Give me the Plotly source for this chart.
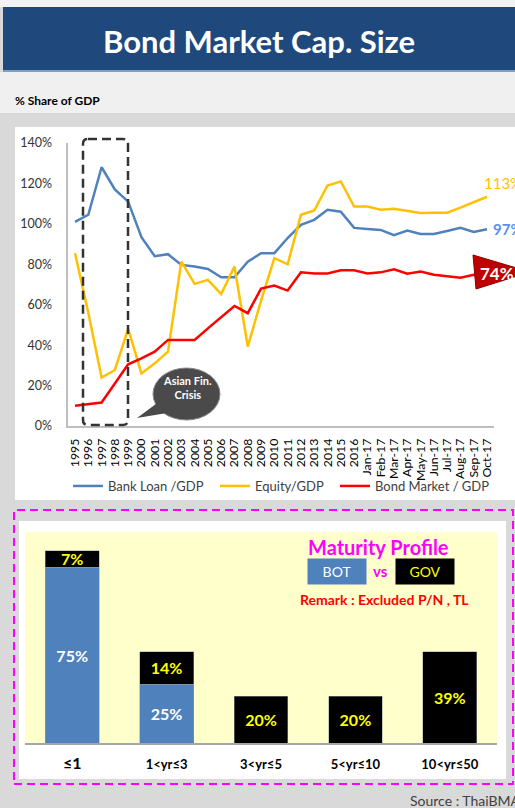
import plotly.graph_objects as go

W, H = 515, 808


def X(px):
    return px / W


def Y(py):
    return 1 - py / H


FONT = "Lato"

# ---------------- data ----------------
periods = [str(y) for y in range(1995, 2017)] + [
    "Jan-17", "Feb-17", "Mar-17", "Apr-17", "May-17",
    "Jun-17", "Jul-17", "Aug-17", "Sep-17", "Oct-17"]

bank_loan = [101, 104.5, 128, 117, 111, 93.4, 84, 85, 79.7, 78.9, 77.7,
             73.6, 73.6, 81.3, 85.5, 85.5, 93, 99.5, 102, 107, 106, 98,
             97.5, 97, 94.4, 96.7, 95, 95, 96.5, 98, 96, 97.3]
equity = [85.5, 56, 24, 27.7, 48, 26, 31, 36.8, 81.3, 70.3, 72.3,
          65.3, 78.9, 39.3, 62, 83, 80, 104.5, 106.6, 119, 121, 108.6,
          108.6, 107, 107.5, 106.4, 105.4, 105.5, 105.5, 108, 110.7, 113.4]
bond_market = [10, 10.9, 11.6, 21, 30.5, 33.5, 36.8, 42.6, 42.6, 42.6, 48.3,
               54, 59.4, 55.8, 68, 69.5, 67, 76, 75.5, 75.5, 77, 77,
               75.5, 76, 77.5, 75.3, 76.4, 74.8, 74, 73.4, 74.8, 74.4]

y_ticks = [0, 20, 40, 60, 80, 100, 120, 140]
y_tick_labels = [f"{v}%" for v in y_ticks]

maturity = ["≤1", "1<yr≤3", "3<yr≤5", "5<yr≤10", "10<yr≤50"]
bot_share = [75, 25, None, None, None]
gov_share = [7, 14, 20, 20, 39]

# ---------------- figure ----------------
fig = go.Figure()

fig.add_trace(go.Scatter(x=periods, y=bank_loan, name="Bank Loan /GDP", mode="lines",
                         line=dict(color="#4f81bd", width=2.5), xaxis="x", yaxis="y",
                         legend="legend"))
fig.add_trace(go.Scatter(x=periods, y=equity, name="Equity/GDP", mode="lines",
                         line=dict(color="#ffc000", width=2.5), xaxis="x", yaxis="y",
                         legend="legend2"))
fig.add_trace(go.Scatter(x=periods, y=bond_market, name="Bond Market / GDP", mode="lines",
                         line=dict(color="#ff0000", width=2.5), xaxis="x", yaxis="y",
                         legend="legend3"))

fig.add_trace(go.Bar(x=maturity, y=bot_share, name="BOT", xaxis="x2", yaxis="y2",
                     marker=dict(color="#4f81bd", line=dict(color="#9a9a9a", width=0.5)),
                     text=[f"{v}%" if v else "" for v in bot_share],
                     textposition="inside", insidetextanchor="middle",
                     textfont=dict(family=FONT, size=16, color="white", weight="bold"),
                     showlegend=False, hoverinfo="skip"))
fig.add_trace(go.Bar(x=maturity, y=gov_share, name="GOV", xaxis="x2", yaxis="y2",
                     marker=dict(color="#000000", line=dict(color="#9a9a9a", width=0.5)),
                     text=[f"{v}%" for v in gov_share],
                     textposition="inside", insidetextanchor="middle",
                     textfont=dict(family=FONT, size=16, color="#ffff00", weight="bold"),
                     showlegend=False, hoverinfo="skip"))


def rounded_rect(x0, y0, x1, y1, r):
    return (f"M {X(x0 + r)},{Y(y0)} L {X(x1 - r)},{Y(y0)} Q {X(x1)},{Y(y0)} {X(x1)},{Y(y0 + r)} "
            f"L {X(x1)},{Y(y1 - r)} Q {X(x1)},{Y(y1)} {X(x1 - r)},{Y(y1)} "
            f"L {X(x0 + r)},{Y(y1)} Q {X(x0)},{Y(y1)} {X(x0)},{Y(y1 - r)} "
            f"L {X(x0)},{Y(y0 + r)} Q {X(x0)},{Y(y0)} {X(x0 + r)},{Y(y0)} Z")


def rect(x0, y0, x1, y1, fill, layer="below", line=None):
    return dict(type="rect", xref="paper", yref="paper", x0=X(x0), x1=X(x1), y0=Y(y1), y1=Y(y0),
                fillcolor=fill, layer=layer, line=line or dict(width=0))


shapes = [
    rect(0, 0, 515, 7, "#f2f2f2"),
    rect(3, 7, 515, 70, "#1f497d"),
    rect(3, 70, 515, 72, "#7f9fc8"),
    rect(0, 72, 515, 113, "#f0f0f0"),
    rect(15, 127, 520, 500, "#ffffff"),
    rect(14, 510, 513, 784, "rgba(0,0,0,0)", line=dict(color="#ff00ff", width=2, dash="8px,5px")),
    rect(19, 521, 506, 779, "#ffffff"),
    rect(25, 532, 497, 743, "#ffffcc"),
    dict(type="path", xref="paper", yref="paper", path=rounded_rect(83, 139, 128, 425, 5),
         line=dict(color="#333333", width=2.5, dash="9px,5px"), layer="above"),
    dict(type="circle", xref="paper", yref="paper", x0=X(153), x1=X(220), y0=Y(420), y1=Y(368),
         fillcolor="#4a4a4a", line=dict(color="#8a8a8a", width=1), layer="above"),
    dict(type="path", xref="paper", yref="paper",
         path=f"M {X(160)},{Y(401)} L {X(137)},{Y(418)} L {X(173)},{Y(412)} Z",
         fillcolor="#4a4a4a", line=dict(width=0), layer="above"),
    dict(type="path", xref="paper", yref="paper",
         path=f"M {X(473)},{Y(255)} L {X(530)},{Y(272)} L {X(476)},{Y(289)} Z",
         fillcolor="#c00000", line=dict(color="#8b0000", width=1), layer="above"),
]


def note(text, px, py, size, color, xanchor="center", bold=True, **kw):
    t = f"<b>{text}</b>" if bold else text
    d = dict(text=t, x=X(px), y=Y(py), xref="paper", yref="paper", xanchor=xanchor,
             yanchor="middle", showarrow=False, font=dict(family=FONT, size=size, color=color))
    d.update(kw)
    return d


ann = [
    note("Bond Market Cap. Size", 259, 41, 31, "white"),
    note("% Share of GDP", 13, 100, 12, "black", xanchor="left"),
    note("Asian Fin.<br>Crisis", 187, 387, 11, "white"),
    note("Maturity Profile", 378, 547, 20, "#ff00ff"),
    note("BOT", 336.5, 571, 14, "white", bold=False, width=58, height=25, borderpad=0,
         bgcolor="#4f81bd"),
    note("vs", 380, 571, 15, "#ff00ff"),
    note("GOV", 424.5, 571, 14, "#ffff00", bold=False, width=58, height=25, borderpad=0,
         bgcolor="#000000"),
    note("Remark : Excluded P/N , TL", 384, 599, 14, "#ff0000"),
    note("Source : ThaiBMA", 408, 800, 14, "#404040", xanchor="left", bold=False),
]

i97 = periods.index("1997")
for series, color, ys, xs in [(bank_loan, "#6f9ee6", 12, 2), (equity, "#ffc000", 46, 5),
                              (bond_market, "#c00000", -13, 3)]:
    ann.append(dict(text=f"<b>{round(series[i97])}<span style='font-size:8px'>%</span></b>",
                    x=periods[i97], y=series[i97], xref="x", yref="y", yshift=ys, xshift=xs,
                    showarrow=False, font=dict(family=FONT, size=12, color=color)))

ann.append(dict(text=f"{round(equity[-1])}%", x=periods[-1], y=equity[-1], xref="x", yref="y",
                xanchor="left", xshift=-5, yshift=14, showarrow=False,
                font=dict(family=FONT, size=15, color="#ffc000")))
ann.append(dict(text=f"<b>{round(bank_loan[-1])}%</b>", x=periods[-1], y=bank_loan[-1], xref="x",
                yref="y", xanchor="left", xshift=4, yshift=0, showarrow=False,
                font=dict(family=FONT, size=15, color="#5b8ff0")))
ann.append(dict(text=f"<b>{round(bond_market[-1])}%</b>", x=periods[-1], y=bond_market[-1], xref="x",
                yref="y", xanchor="left", xshift=-9, yshift=2, showarrow=False,
                font=dict(family=FONT, size=17, color="white")))

cat_text = [f"<span style='font-size:16px'>{m}</span>" if i == 0 else m
            for i, m in enumerate(maturity)]

legend_common = dict(orientation="h", xanchor="left", yanchor="top", y=Y(471),
                     font=dict(family=FONT, size=13, color="#404040"), bgcolor="rgba(0,0,0,0)")

fig.update_layout(
    width=W, height=H, autosize=False,
    margin=dict(l=0, r=0, t=0, b=0, pad=0, autoexpand=False),
    paper_bgcolor="#d9d9d9", plot_bgcolor="rgba(0,0,0,0)",
    font=dict(family=FONT, color="#404040"),
    barmode="stack", bargap=0.43,
    uniformtext=dict(minsize=16, mode="show"),
    xaxis=dict(domain=[X(68.35), X(493.65)], anchor="y", type="category", range=[-0.5, 31.5],
               tickmode="array", tickvals=periods, ticktext=periods,
               tickangle=-90, tickfont=dict(family=FONT, size=12.3, color="#000000"),
               showline=True, linecolor="#bfbfbf", linewidth=1.5, showgrid=False,
               ticks="outside", ticklen=6, tickcolor="rgba(0,0,0,0)", automargin=False),
    yaxis=dict(domain=[Y(426), Y(143)], anchor="x", range=[0, 140],
               tickmode="array", tickvals=y_ticks, ticktext=y_tick_labels,
               showline=True, linecolor="#bfbfbf", linewidth=1.5,
               showgrid=False, zeroline=False,
               tickfont=dict(family=FONT, size=12.5, color="#333333"),
               ticks="outside", ticklen=12, tickcolor="rgba(0,0,0,0)", automargin=False),
    xaxis2=dict(domain=[X(25), X(497)], anchor="y2", type="category",
                tickmode="array", tickvals=maturity, ticktext=cat_text,
                tickfont=dict(family=FONT, size=13, color="#000000", weight="bold"),
                showline=True, linecolor="#a6a6a6", linewidth=1.5, showgrid=False,
                ticks="outside", ticklen=9, tickcolor="rgba(0,0,0,0)", automargin=False),
    yaxis2=dict(domain=[Y(743), Y(532)], anchor="x2", range=[0, 90], visible=False,
                automargin=False),
    legend=dict(x=X(68), **legend_common),
    legend2=dict(x=X(215), **legend_common),
    legend3=dict(x=X(335), **legend_common),
    shapes=shapes,
    annotations=ann,
    showlegend=True,
)

fig.write_html("out.html", config={"displayModeBar": False},
               post_script="document.body.style.margin='0px';document.body.style.overflow='hidden';")
